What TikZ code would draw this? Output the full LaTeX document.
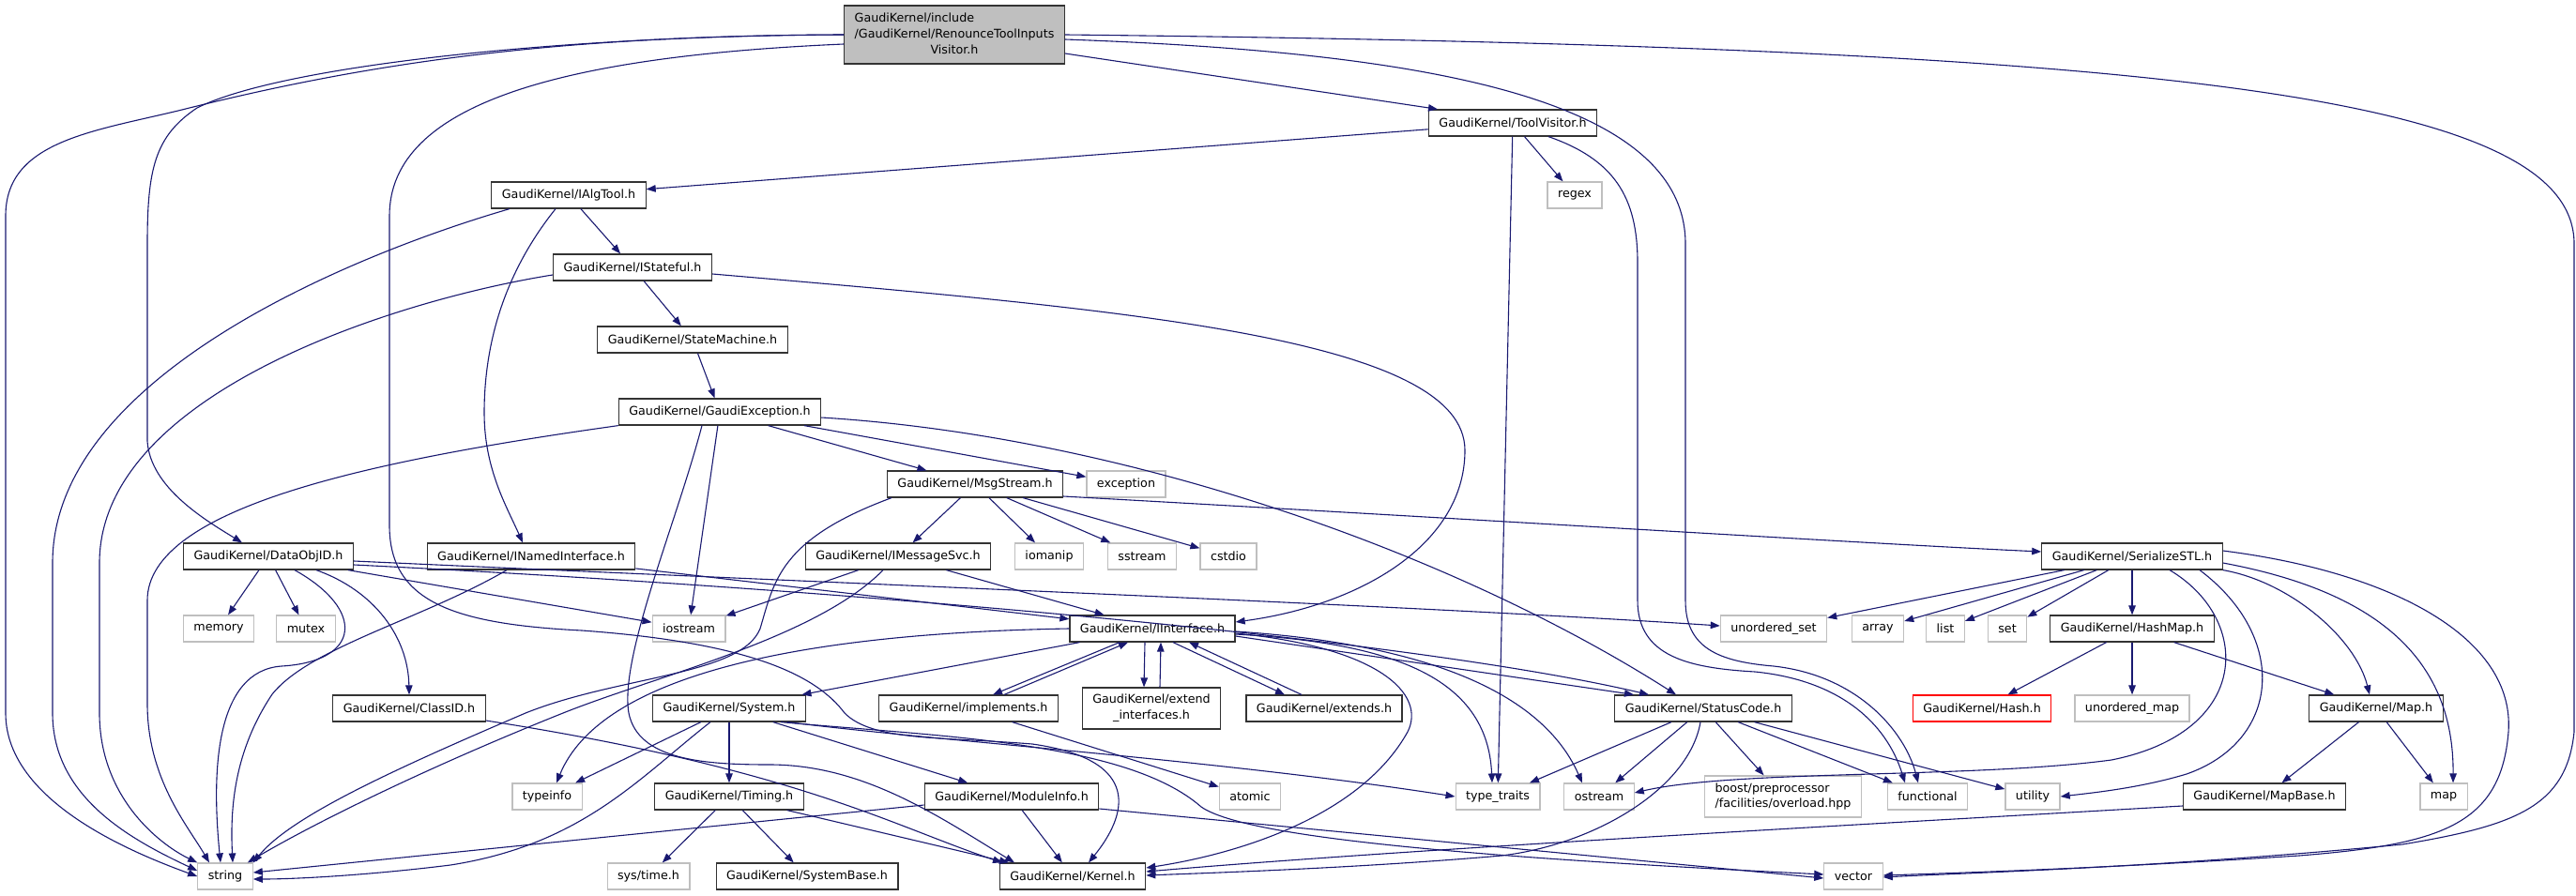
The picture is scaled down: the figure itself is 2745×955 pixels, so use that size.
\documentclass[tikz,border=0pt]{standalone}
\usepackage{fontspec}
\newfontfamily\dxfont{DejaVu Sans}
\usepackage{tikz}
\usetikzlibrary{arrows.meta}
\definecolor{midnight}{HTML}{191970}
\definecolor{grey75}{HTML}{BFBFBF}

\begin{document}
\begin{tikzpicture}[x=1pt, y=-1pt,
    hdr/.style={draw=black!80, fill=white, line width=1.2pt, inner xsep=11pt, inner ysep=2pt,
      minimum height=28pt, font=\dxfont\fontsize{12.7}{16.7}\selectfont},
    sys/.style={hdr, draw=grey75},
    rootbox/.style={hdr, fill=grey75, minimum height=62pt},
    missing/.style={hdr, draw=red},
    inc/.style={draw=midnight, line width=1.1pt, -{Triangle[length=10pt, width=7.5pt]}}]
    \useasboundingbox (0, 0) rectangle (2745, 955);

    \node[rootbox] (root) at (1017, 37){\begin{tabular}{@{}l@{}}GaudiKernel/include\\/GaudiKernel/RenounceToolInputs\\\multicolumn{1}{@{}c@{}}{Visitor.h}\end{tabular}};
    \node[hdr] (tvis) at (1612, 131){GaudiKernel/ToolVisitor.h};
    \node[hdr] (ialg) at (606, 208){GaudiKernel/IAlgTool.h};
    \node[sys] (regex) at (1678, 208){regex};
    \node[hdr] (istate) at (674, 285){GaudiKernel/IStateful.h};
    \node[hdr] (smach) at (738, 362){GaudiKernel/StateMachine.h};
    \node[hdr] (gexc) at (767, 439){GaudiKernel/GaudiException.h};
    \node[hdr] (msg) at (1039, 516){GaudiKernel/MsgStream.h};
    \node[sys] (except) at (1200, 516){exception};
    \node[hdr] (dobj) at (286, 593){GaudiKernel/DataObjID.h};
    \node[hdr] (inamed) at (566, 593){GaudiKernel/INamedInterface.h};
    \node[hdr] (imsg) at (957, 593){GaudiKernel/IMessageSvc.h};
    \node[sys] (iomanip) at (1118, 593){iomanip};
    \node[sys] (sstream) at (1217, 593){sstream};
    \node[sys] (cstdio) at (1309, 593){cstdio};
    \node[hdr] (sstl) at (2272, 593){GaudiKernel/SerializeSTL.h};
    \node[sys] (memory) at (233, 670){memory};
    \node[sys] (mutex) at (326, 670){mutex};
    \node[sys] (iostream) at (734, 670){iostream};
    \node[hdr] (iintf) at (1228, 670){GaudiKernel/IInterface.h};
    \node[sys] (uset) at (1890, 670){unordered\_set};
    \node[sys] (array) at (2001, 670){array};
    \node[sys] (list) at (2073, 670){list};
    \node[sys] (set) at (2139, 670){set};
    \node[hdr] (hmap) at (2272, 670){GaudiKernel/HashMap.h};
    \node[hdr] (clsid) at (436, 755){GaudiKernel/ClassID.h};
    \node[hdr] (system) at (777, 755){GaudiKernel/System.h};
    \node[hdr] (impl) at (1032, 755){GaudiKernel/implements.h};
    \node[hdr, align=center, minimum height=44pt] (extif) at (1227, 755){GaudiKernel/extend\\\_interfaces.h};
    \node[hdr] (extends) at (1411, 755){GaudiKernel/extends.h};
    \node[hdr] (status) at (1815, 755){GaudiKernel/StatusCode.h};
    \node[missing] (hash) at (2112, 755){GaudiKernel/Hash.h};
    \node[sys] (umap) at (2272, 755){unordered\_map};
    \node[hdr] (map) at (2532, 755){GaudiKernel/Map.h};
    \node[sys] (typeinfo) at (583, 849){typeinfo};
    \node[hdr] (timing) at (777, 849){GaudiKernel/Timing.h};
    \node[hdr] (modinfo) at (1078, 849){GaudiKernel/ModuleInfo.h};
    \node[sys] (atomic) at (1332, 849){atomic};
    \node[sys] (ttraits) at (1596, 849){type\_traits};
    \node[sys] (ostream) at (1704, 849){ostream};
    \node[sys, align=left, minimum height=44pt] (boost) at (1900, 849){boost/preprocessor\\/facilities/overload.hpp};
    \node[sys] (functional) at (2054, 849){functional};
    \node[sys] (utility) at (2166, 849){utility};
    \node[hdr] (mapbase) at (2413, 849){GaudiKernel/MapBase.h};
    \node[sys] (mapstd) at (2604, 849){map};
    \node[sys] (string) at (240, 934){string};
    \node[sys] (systime) at (691, 934){sys/time.h};
    \node[hdr] (sysbase) at (860, 934){GaudiKernel/SystemBase.h};
    \node[hdr] (kernel) at (1143, 934){GaudiKernel/Kernel.h};
    \node[sys] (vector) at (1975, 934){vector};

    % root header
    \draw[inc] (root.west) .. controls (600, 38) and (400, 65) .. (194, 117) .. controls (100, 140) and (6, 150) .. (6, 230) -- (6, 760) .. controls (6, 850) and (130, 905) .. (string.west);
    \draw[inc] (root.west) .. controls (600, 38) and (300, 70) .. (210, 115) .. controls (165, 145) and (157, 180) .. (157, 260) -- (157, 470) .. controls (160, 520) and (220, 555) .. ([xshift=-28pt]dobj.north);
    \draw[inc] ([yshift=-10pt]root.west) .. controls (600, 60) and (415, 110) .. (415, 230) -- (415, 560) .. controls (415, 640) and (480, 665) .. (620, 672) .. controls (800, 685) and (870, 720) .. (900, 760) .. controls (930, 790) and (1000, 785) .. (1100, 793) .. controls (1220, 810) and (1200, 870) .. ([xshift=17pt]kernel.north);
    \draw[inc] ([yshift=-20pt]root.east) -- ([xshift=-80pt]tvis.north);
    \draw[inc] ([yshift=-5pt]root.east) .. controls (1500, 55) and (1796, 100) .. (1796, 260) -- (1796, 640) .. controls (1796, 690) and (1830, 705) .. (1890, 710) .. controls (1980, 720) and (2030, 780) .. ([xshift=-10pt]functional.north);
    \draw[inc] (root.east) .. controls (2300, 50) and (2743, 100) .. (2743, 260) -- (2743, 780) .. controls (2735, 860) and (2680, 880) .. (2560, 900) .. controls (2300, 925) and (2100, 930) .. ([yshift=-1pt]vector.east);

    \draw[inc] (tvis) -- (ialg);
    \draw[inc] (tvis) -- (regex);
    \draw[inc] (tvis) -- (ttraits);
    \draw[inc] ([xshift=38pt]tvis.south) .. controls (1720, 170) and (1745, 210) .. (1745, 280) -- (1745, 640) .. controls (1745, 700) and (1800, 712) .. (1870, 716) .. controls (1960, 725) and (2010, 770) .. ([xshift=-24pt]functional.north);

    \draw[inc] ([xshift=-63pt]ialg.south) .. controls (380, 270) and (56, 400) .. (56, 600) -- (56, 760) .. controls (56, 850) and (140, 895) .. ([yshift=6pt]string.west);
    \draw[inc] ([xshift=-14pt]ialg.south) .. controls (530, 300) and (516, 380) .. (516, 440) .. controls (516, 500) and (540, 540) .. ([xshift=-9pt]inamed.north);
    \draw[inc] (ialg) -- (istate);

    \draw[inc] ([yshift=-8pt]istate.west) .. controls (420, 320) and (106, 420) .. (106, 600) -- (106, 760) .. controls (106, 850) and (170, 900) .. (string.north west);
    \draw[inc] (istate) -- (smach);
    \draw[inc] ([yshift=-7pt]istate.east) .. controls (1200, 330) and (1561, 360) .. (1561, 480) .. controls (1561, 580) and (1450, 645) .. ([yshift=7pt]iintf.east);

    \draw[inc] (smach) -- (gexc);

    \draw[inc] (gexc.south west) .. controls (400, 490) and (157, 540) .. (157, 640) -- (157, 750) .. controls (157, 830) and (200, 880) .. ([xshift=-17pt]string.north);
    \draw[inc] (gexc) -- (iostream);
    \draw[inc] ([xshift=-19pt]gexc.south) .. controls (720, 560) and (660, 700) .. (670, 760) .. controls (680, 810) and (750, 815) .. (820, 815) .. controls (920, 815) and (1000, 870) .. ([xshift=-62pt]kernel.north);
    \draw[inc] (gexc) -- (msg);
    \draw[inc] ([xshift=90pt]gexc.south) -- (except);
    \draw[inc] ([yshift=-6pt]gexc.east) .. controls (1200, 465) and (1550, 590) .. ([xshift=-29pt]status.north);

    \draw[inc] (msg) -- (imsg);
    \draw[inc] (msg) -- (iomanip);
    \draw[inc] (msg) -- (sstream);
    \draw[inc] (msg) -- (cstdio);
    \draw[inc] ([yshift=-13pt]msg.east) .. controls (1600, 555) and (2000, 580) .. ([yshift=5pt]sstl.west);
    \draw[inc] ([xshift=-89pt]msg.south) .. controls (830, 575) and (825, 620) .. (810, 670) .. controls (790, 720) and (660, 720) .. (560, 760) .. controls (420, 820) and (310, 870) .. (string.north east);

    \draw[inc] (imsg) -- (iintf);
    \draw[inc] (imsg) -- (iostream);
    \draw[inc] ([xshift=-16pt]imsg.south) .. controls (870, 680) and (700, 720) .. (600, 760) .. controls (450, 820) and (330, 880) .. ([xshift=-6pt]string.north east);

    \draw[inc] (inamed) -- (iintf);
    \draw[inc] ([xshift=-26pt]inamed.south) .. controls (450, 660) and (330, 690) .. (290, 740) .. controls (250, 800) and (245, 860) .. ([xshift=8pt]string.north);

    \draw[inc] (dobj) -- (memory);
    \draw[inc] (dobj) -- (mutex);
    \draw[inc] ([xshift=28pt]dobj.south) .. controls (390, 650) and (385, 705) .. (300, 710) .. controls (230, 715) and (225, 820) .. ([xshift=-5pt]string.north);
    \draw[inc] ([xshift=51pt]dobj.south) .. controls (400, 630) and (435, 680) .. (clsid.north);
    \draw[inc] (dobj) -- (iostream);
    \draw[inc] ([yshift=-5pt]dobj.east) .. controls (900, 622) and (1500, 645) .. ([yshift=3pt]uset.west);
    \draw[inc] ([yshift=-9pt]dobj.east) .. controls (900, 628) and (1500, 680) .. ([xshift=-58pt]status.north);

    \draw[inc] ([yshift=-13pt]clsid.east) .. controls (850, 820) and (950, 880) .. ([xshift=-75pt]kernel.north);

    \draw[inc] (iintf) -- (system);
    \draw[inc] (iintf.west) .. controls (850, 675) and (640, 720) .. ([xshift=10pt]typeinfo.north);
    \draw[inc] ([xshift=-35pt]iintf.south) -- ([xshift=26pt]impl.north);
    \draw[inc] ([xshift=38pt]impl.north) -- ([xshift=-26pt]iintf.south);
    \draw[inc] ([xshift=-8pt]iintf.south) -- ([xshift=-8pt]extif.north);
    \draw[inc] ([xshift=9pt]extif.north) -- ([xshift=9pt]iintf.south);
    \draw[inc] ([xshift=22pt]iintf.south) -- ([xshift=-42pt]extends.north);
    \draw[inc] ([xshift=-24pt]extends.north) -- ([xshift=39pt]iintf.south);
    \draw[inc] ([yshift=-5pt]iintf.east) .. controls (1470, 690) and (1520, 740) .. (1500, 780) .. controls (1450, 870) and (1320, 910) .. ([yshift=9pt]kernel.east);
    \draw[inc] ([yshift=-6pt]iintf.east) .. controls (1480, 685) and (1585, 720) .. ([xshift=-6pt]ttraits.north);
    \draw[inc] ([yshift=-3pt]iintf.east) .. controls (1500, 685) and (1640, 730) .. ([xshift=-18pt]ostream.north);
    \draw[inc] ([yshift=-8pt]iintf.east) -- ([xshift=-74pt]status.north);

    \draw[inc] (impl) -- (atomic);

    \draw[inc] (system) -- (typeinfo);
    \draw[inc] ([xshift=-20pt]system.south) .. controls (680, 830) and (620, 900) .. (480, 922) .. controls (400, 932) and (320, 937) .. ([yshift=-3pt]string.east);
    \draw[inc] (system) -- (timing);
    \draw[inc] (system) -- (modinfo);
    \draw[inc] ([xshift=55pt]system.south) .. controls (1000, 785) and (1200, 790) .. (1280, 860) .. controls (1330, 895) and (1600, 915) .. ([yshift=2pt]vector.west);
    \draw[inc] ([xshift=62pt]system.south) .. controls (1000, 790) and (1300, 810) .. (ttraits.west);

    \draw[inc] (timing) -- (systime);
    \draw[inc] (timing) -- (sysbase);
    \draw[inc] (timing) -- ([xshift=-68pt]kernel.north);

    \draw[inc] ([yshift=-9pt]modinfo.west) -- ([yshift=4pt]string.east);
    \draw[inc] (modinfo) -- (kernel);
    \draw[inc] ([yshift=-13pt]modinfo.east) -- ([yshift=-2pt]vector.west);

    \draw[inc] (status) -- (ttraits);
    \draw[inc] (status) -- (ostream);
    \draw[inc] ([xshift=-3pt]status.south) .. controls (1800, 840) and (1700, 900) .. (1600, 912) .. controls (1450, 925) and (1300, 930) .. ([yshift=1pt]kernel.east);
    \draw[inc] (status) -- (boost);
    \draw[inc] (status) -- (functional);
    \draw[inc] (status) -- (utility);

    \draw[inc] (sstl) -- (uset);
    \draw[inc] (sstl) -- (array);
    \draw[inc] (sstl) -- (list);
    \draw[inc] (sstl) -- (set);
    \draw[inc] (sstl) -- (hmap);
    \draw[inc] ([xshift=40pt]sstl.south) .. controls (2400, 660) and (2400, 780) .. (2250, 810) .. controls (2100, 830) and (1850, 820) .. ([yshift=4pt]ostream.east);
    \draw[inc] ([xshift=72pt]sstl.south) .. controls (2440, 680) and (2430, 790) .. (2330, 825) .. controls (2280, 840) and (2230, 845) .. (utility.east);
    \draw[inc] (sstl.south east) .. controls (2440, 620) and (2510, 680) .. ([xshift=-7pt]map.north);
    \draw[inc] ([yshift=-7pt]sstl.east) .. controls (2530, 630) and (2615, 700) .. ([xshift=10pt]mapstd.north);
    \draw[inc] ([yshift=6pt]sstl.east) .. controls (2550, 610) and (2680, 680) .. (2673, 780) .. controls (2665, 880) and (2600, 900) .. (2450, 912) .. controls (2250, 925) and (2100, 930) .. ([yshift=1pt]vector.east);

    \draw[inc] (hmap) -- (hash);
    \draw[inc] (hmap) -- (umap);
    \draw[inc] (hmap) -- (map);

    \draw[inc] (map) -- (mapbase);
    \draw[inc] (map) -- (mapstd);

    \draw[inc] ([yshift=-10pt]mapbase.west) .. controls (2000, 878) and (1500, 905) .. ([yshift=5pt]kernel.east);
\end{tikzpicture}
\end{document}
